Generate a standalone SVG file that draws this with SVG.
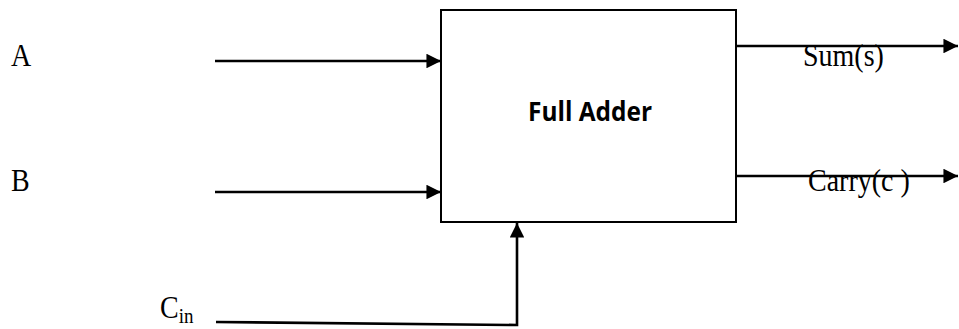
<svg xmlns="http://www.w3.org/2000/svg" width="959" height="329" viewBox="0 0 959 329">
  <style>
    .wire { stroke: #000; stroke-width: 2.6; fill: none; }
    .lbl { font-family: "Liberation Serif", "Times New Roman", serif; font-size: 28px; fill: #000; }
    .title { font-family: "Open Sans", "Liberation Sans", sans-serif; font-weight: bold; font-size: 26px; fill: #000; }
  </style>
  <defs>
    <marker id="arrow" viewBox="0 0 10 10" refX="10" refY="5" markerWidth="6" markerHeight="5.6" orient="auto" markerUnits="strokeWidth">
      <path d="M0,0 L10,5 L0,10 z" fill="#000"/>
    </marker>
  </defs>
  <rect width="959" height="329" fill="#fff"/>

  <g id="full-adder">
    <rect x="441" y="10" width="295" height="212" fill="#fff" stroke="#000" stroke-width="2"/>
    <text class="title" x="528" y="121" textLength="124" lengthAdjust="spacingAndGlyphs">Full Adder</text>
  </g>

  <g id="connectors">
    <line class="wire" x1="215" y1="61" x2="441" y2="61" marker-end="url(#arrow)"/>
    <line class="wire" x1="215" y1="192" x2="441" y2="192" marker-end="url(#arrow)"/>
    <polyline class="wire" points="216,322 517,325 517,223" marker-end="url(#arrow)"/>
    <line class="wire" x1="736" y1="46" x2="958" y2="46" marker-end="url(#arrow)"/>
    <line class="wire" x1="736" y1="176" x2="958" y2="176" marker-end="url(#arrow)"/>
  </g>

  <!-- serif labels are drawn slightly tall (scaled 1.15 vertically) -->
  <g id="input-a"><text class="lbl" transform="translate(11,66) scale(1,1.15)">A</text></g>
  <g id="input-b"><text class="lbl" transform="translate(11,191) scale(1,1.15)">B</text></g>
  <g id="input-cin"><text class="lbl" transform="translate(160,318) scale(1,1.15)">C<tspan font-size="19" dy="4">in</tspan></text></g>
  <g id="output-sum"><text class="lbl" transform="translate(803,66) scale(1,1.15)">Sum(s)</text></g>
  <g id="output-carry"><text class="lbl" transform="translate(808,191) scale(1,1.15)">Carry(c )</text></g>
</svg>
